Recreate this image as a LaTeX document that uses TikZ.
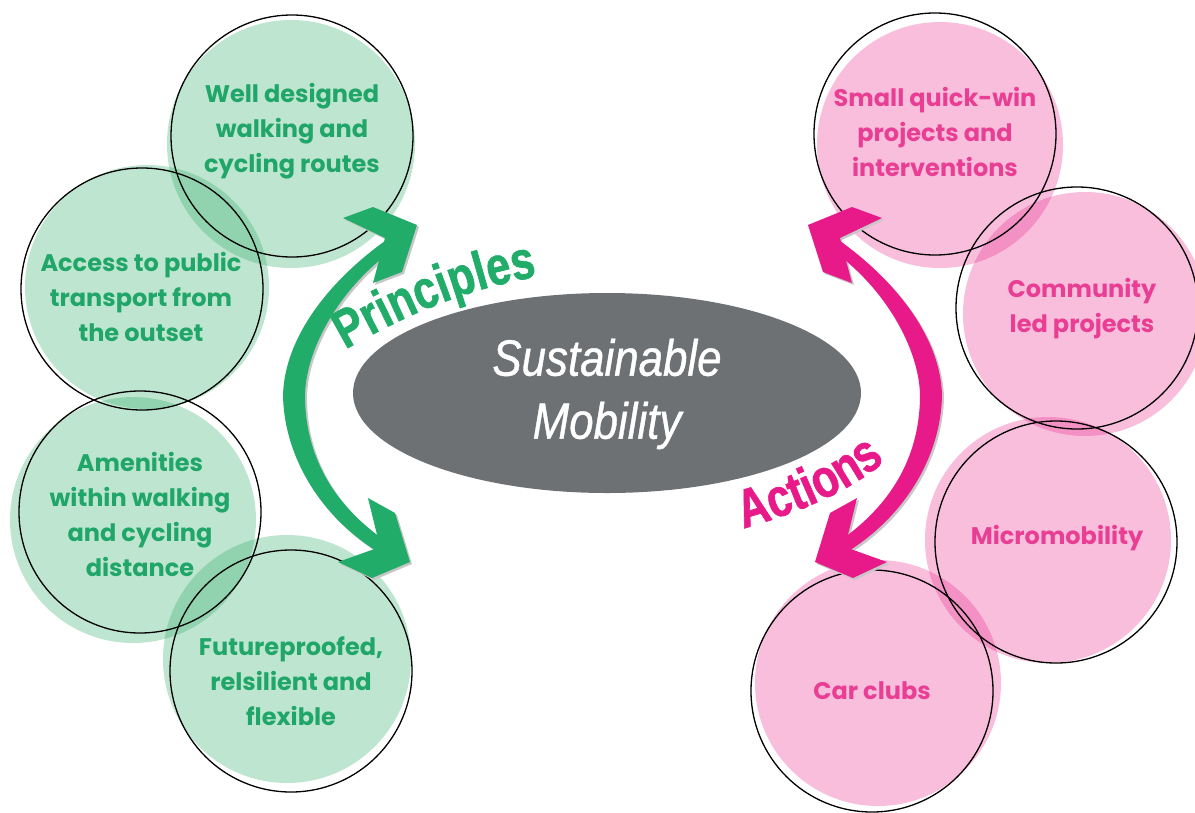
\documentclass[tikz,border=0pt]{standalone}
\usepackage{fontspec}
\usetikzlibrary{shapes.geometric,decorations.text}
\setmainfont{Poppins}
\newfontfamily\headfont[FakeStretch=0.8,FakeBold=1.2]{Liberation Sans Bold}
\newfontfamily\ovalfont[FakeStretch=0.86,FakeBold=0.8]{Liberation Sans}

\definecolor{gArrow}{RGB}{34,172,106}
\definecolor{gText}{RGB}{32,166,104}
\definecolor{gBase}{RGB}{40,170,100}
\definecolor{pArrow}{RGB}{232,26,138}
\definecolor{pText}{RGB}{232,62,148}
\definecolor{pBase}{RGB}{232,40,140}
\definecolor{ovalGrey}{RGB}{110,113,116}

% curved two-headed arrow (drawn for the left side, mirrored for the right)
\newcommand{\bentarrow}[1]{%
  \fill[#1] (398,232) .. controls (340,270) and (285,330) .. (283,395)
     .. controls (284,460) and (325,525) .. (392,560)
     -- (396,548) .. controls (328,505) and (305,450) .. (305,395)
     .. controls (306,345) and (345,280) .. (402,244) -- cycle;
  \fill[#1] (343,218) -- (373,207) -- (417,225) -- (402,272) -- (373,283) -- (385,238) -- cycle;
  \fill[#1] (338,562) -- (380,547) -- (368,498) -- (395,513) -- (410,562) -- (372,578) -- cycle;
}

\begin{document}
\begin{tikzpicture}[x=1pt,y=-1pt,
  gfill/.style={fill=gBase,fill opacity=0.3},
  pfill/.style={fill=pBase,fill opacity=0.3},
  ring/.style={circle,draw=black,line width=1.3pt,minimum size=242pt,inner sep=0pt},
  ctext/.style={align=center,font=\bfseries\fontsize{24}{35}\selectfont},
  gtext/.style={ctext,text=gText},
  ptext/.style={ctext,text=pText},
  oval/.style={ellipse,fill=ovalGrey,minimum width=508pt,minimum height=200pt,inner sep=0pt},
  ovaltext/.style={align=center,text=white,font=\ovalfont\itshape\fontsize{51}{63}\selectfont}
]
\useasboundingbox (0,0) rectangle (1195,812);

% soft discs behind the rings
\fill[gfill] (291,144) circle[radius=124pt];
\fill[gfill] (147,287) circle[radius=122pt];
\fill[gfill] (133,520) circle[radius=123pt];
\fill[gfill] (287,659) circle[radius=124pt];
\fill[pfill] (940,145) circle[radius=123pt];
\fill[pfill] (1085,314) circle[radius=122pt];
\fill[pfill] (1048,540) circle[radius=123pt];
\fill[pfill] (878,683) circle[radius=123pt];

% outlined rings
\node[ring] (routes) at (292,136) {};
\node[ring] (transit) at (142,289) {};
\node[ring] (amenities) at (140,512) {};
\node[ring] (future) at (291,671) {};
\node[ring] (quickwin) at (935,134) {};
\node[ring] (community) at (1077,308) {};
\node[ring] (micro) at (1056,542) {};
\node[ring] (carclubs) at (872,691) {};

% ring captions
\node[gtext] (routesT) at (292,131) {Well designed\\walking and\\cycling routes};
\node[gtext] (transitT) at (141,297) {Access to public\\transport from\\the outset};
\node[gtext] (amenitiesT) at (140,514) {Amenities\\within walking\\and cycling\\distance};
\node[gtext] (futureT) at (291,681) {Futureproofed,\\relsilient and\\flexible};
\node[ptext] (quickwinT) at (935,132) {Small quick-win\\projects and\\interventions};
\node[ptext] (communityT) at (1082,309) {Community\\led projects};
\node[ptext] (microT) at (1057,538) {Micromobility};
\node[ptext] (carclubsT) at (872,691) {Car clubs};

% central ellipse
\node[oval] (core) at (607,393) {};
\node[ovaltext] (coreT) at (607,394) {Sustainable\\Mobility};

% curved arrows with a light shadow
\bentarrow{black!22,xshift=2pt,yshift=-2pt}
\bentarrow{gArrow}
\begin{scope}[xshift=1225pt,xscale=-1]
  \bentarrow{black!22,xshift=-2pt,yshift=-2pt}
  \bentarrow{pArrow}
\end{scope}

% arrow labels set along arcs
\path[decorate,decoration={text along path,text align=center,text color=gArrow,
    text={|\headfont\fontsize{54}{54}\selectfont|Principles}}]
  (343,351) .. controls (400,318) and (460,290) .. (540,276);
\path[decorate,decoration={text along path,text align=center,text color=pArrow,
    text={|\headfont\fontsize{54}{54}\selectfont|Actions}}]
  (745,528) .. controls (790,515) and (845,495) .. (884,462);
\end{tikzpicture}
\end{document}
